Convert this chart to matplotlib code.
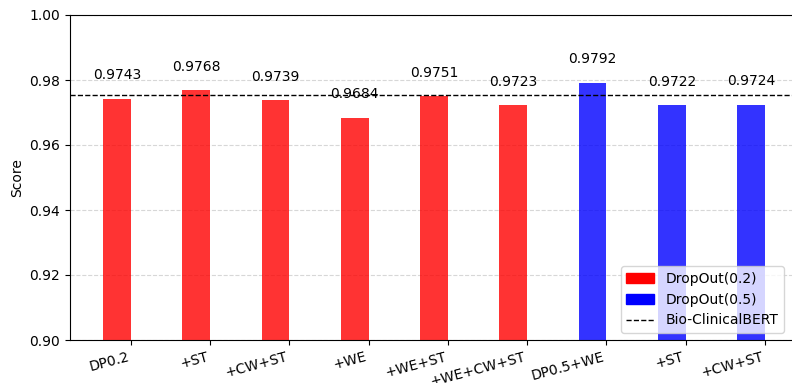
import numpy as np
import matplotlib.pyplot as plt
from matplotlib.patches import Patch
from matplotlib.lines import Line2D

# model variants and their scores
labels = ['DP0.2', '+ST', '+CW+ST', '+WE', '+WE+ST', '+WE+CW+ST', 'DP0.5+WE', '+ST', '+CW+ST']
scores = [0.9743, 0.9768, 0.9739, 0.9684, 0.9751, 0.9723, 0.9792, 0.9722, 0.9724]
groups = ['DropOut(0.2)'] * 6 + ['DropOut(0.5)'] * 3
baseline = 0.9755

group_colors = {'DropOut(0.2)': 'red', 'DropOut(0.5)': 'blue'}
colors = [group_colors[g] for g in groups]

fig = plt.figure(figsize=(7.92, 3.83), dpi=100)
ax = fig.add_axes([70 / 792, 1 - 340 / 383, 728 / 792, 325 / 383])

x = np.arange(len(labels))
width = 0.35
bars = ax.bar(x, scores, width, color=colors, alpha=0.8, zorder=2)

for xi, s in zip(x, scores):
    ax.text(xi, s + 0.005, f'{s:.4f}', ha='center', va='bottom', fontsize=10)

ax.axhline(baseline, color='black', linestyle='--', linewidth=1, zorder=3)

ax.set_ylim(0.90, 1.00)
ax.set_ylabel('Score')
ax.set_xticks(x + width / 2)
ax.set_xticklabels(labels, rotation=15, ha='right')
ax.yaxis.grid(True, linestyle='--', color='lightgray', alpha=0.9, zorder=0)
ax.set_axisbelow(True)
ax.spines['right'].set_visible(False)

handles = [Patch(color='red', label='DropOut(0.2)'),
           Patch(color='blue', label='DropOut(0.5)'),
           Line2D([0], [0], color='black', linestyle='--', linewidth=1, label='Bio-ClinicalBERT')]
ax.legend(handles=handles, loc='lower right', bbox_to_anchor=(0.99, 0.0))

fig.savefig('out.png', dpi=100)
